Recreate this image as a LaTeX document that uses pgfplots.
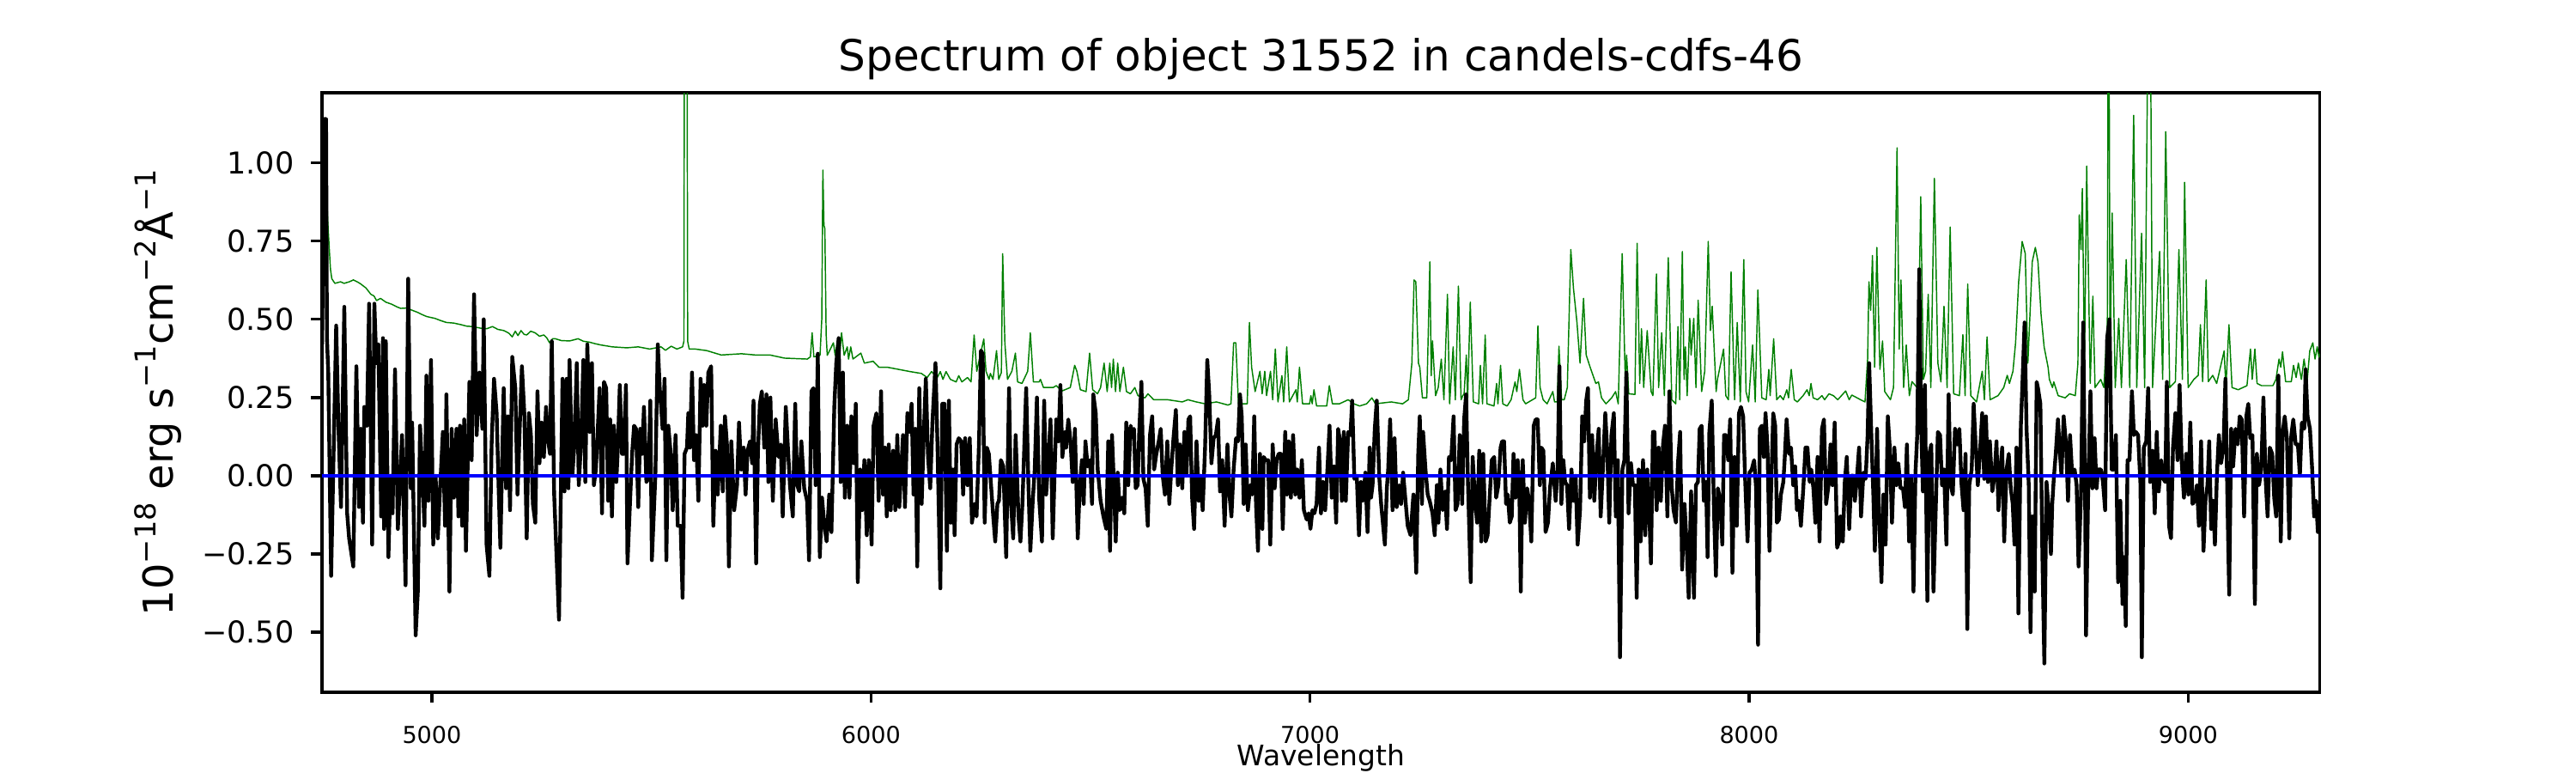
\documentclass[border=0pt]{standalone}
\usepackage{pgfplots}
\pgfplotsset{compat=1.18}
\usepackage{fontspec}
\setmainfont{DejaVu Sans}
\definecolor{mplgreen}{HTML}{008000}
\definecolor{mplblue}{HTML}{0000FF}
\newcommand\sps[1]{\raisebox{0.42em}{\fontsize{8.05}{9}\selectfont #1}}
\begin{document}
\begin{tikzpicture}
\useasboundingbox (-90pt,-22.56pt) rectangle (630pt,193.44pt);
\begin{axis}[
  scale only axis,
  width=558.4pt, height=167.5pt,
  xmin=4749.7, xmax=9300,
  ymin=-0.692, ymax=1.224,
  axis line style={line width=0.8pt},
  tick pos=left,
  tick align=outside,
  major tick length=3pt,
  every tick/.style={black, line width=0.8pt},
  xtick={5000,6000,7000,8000,9000},
  xticklabels={5000,6000,7000,8000,9000},
  ytick={-0.5,-0.25,0,0.25,0.5,0.75,1},
  yticklabels={−0.50,−0.25,0.00,0.25,0.50,0.75,1.00},
  xticklabel style={font=\fontsize{6.5}{7}\selectfont, anchor=base, inner sep=0pt, yshift=-11.3pt},
  yticklabel style={font=\fontsize{8.4}{9}\selectfont, anchor=east, inner sep=0pt, xshift=-4.6pt},
  every axis title/.style={at={(axis description cs:0.5,1.037)}, anchor=base, font=\fontsize{12.0}{14}\selectfont},
  every axis x label/.style={at={(axis description cs:0.5,-0.1232)}, anchor=base, font=\fontsize{7.9}{9}\selectfont},
  every axis y label/.style={at={(axis description cs:-0.0745,0.5)}, rotate=90, anchor=base, font=\fontsize{11.5}{13}\selectfont},
  title={Spectrum of object 31552 in candels-cdfs-46},
  xlabel={Wavelength},
  ylabel={10\sps{−18} erg s\sps{−1}cm\sps{−2}Å\sps{−1}},
  clip=true,
]
% sky spectrum (green)
\addplot[mplgreen, line width=0.35pt, line join=round] table {
4756 1.08
4759 0.95
4763 0.81
4766 0.733
4769 0.66
4772 0.63
4779 0.615
4792 0.62
4800 0.615
4812 0.62
4821 0.626
4830 0.62
4838 0.613
4850 0.60
4861 0.58
4868 0.575
4874 0.56
4883 0.567
4895 0.555
4909 0.548
4920 0.54
4929 0.535
4942 0.536
4955 0.529
4968 0.522
4978 0.515
4988 0.509
5007 0.503
5020 0.496
5033 0.49
5050 0.488
5066 0.483
5080 0.478
5092 0.477
5110 0.472
5125 0.47
5138 0.477
5150 0.468
5164 0.464
5175 0.456
5183 0.444
5190 0.462
5196 0.448
5203 0.464
5210 0.452
5216 0.45
5225 0.462
5235 0.457
5245 0.446
5255 0.45
5262 0.44
5268 0.425
5275 0.438
5281 0.438
5295 0.432
5314 0.431
5333 0.438
5345 0.43
5359 0.427
5372 0.422
5385 0.418
5411 0.412
5444 0.409
5470 0.412
5496 0.405
5522 0.412
5532 0.401
5545 0.414
5558 0.405
5571 0.412
5574 0.43
5575.5 2.0
5580.5 2.0
5582.5 0.43
5586 0.405
5600 0.405
5626 0.40
5659 0.386
5705 0.39
5737 0.386
5770 0.386
5803 0.376
5855 0.373
5862 0.38
5866 0.457
5870 0.38
5884 0.385
5888 0.50
5890.5 0.977
5893 0.80
5895 0.79
5898 0.45
5900.5 0.385
5914.5 0.425
5918.5 0.385
5925 0.44
5928 0.373
5933 0.457
5939 0.385
5946 0.412
5949 0.373
5954 0.412
5959 0.373
5977 0.392
5985 0.36
6005 0.366
6018 0.347
6037 0.347
6063 0.34
6089 0.333
6115 0.327
6128 0.314
6138 0.333
6151 0.314
6158 0.333
6164 0.308
6171 0.333
6181 0.308
6194 0.30
6200 0.32
6207 0.30
6220 0.314
6228 0.30
6235 0.45
6241 0.334
6257 0.437
6262 0.334
6269 0.308
6272 0.327
6278 0.308
6286 0.40
6291 0.308
6297 0.33
6300 0.71
6305 0.425
6311 0.308
6321 0.334
6329 0.392
6334 0.30
6344 0.295
6357 0.334
6363 0.457
6370 0.30
6383 0.30
6386 0.308
6393 0.282
6415 0.282
6422 0.288
6435 0.271
6454 0.282
6464 0.353
6469 0.334
6477 0.275
6490 0.269
6498 0.392
6505 0.275
6516 0.262
6523 0.282
6531 0.36
6538 0.269
6544 0.36
6548 0.282
6552 0.373
6557 0.269
6562 0.36
6567 0.269
6575 0.347
6582 0.269
6591 0.262
6601 0.282
6608 0.256
6624 0.249
6631 0.262
6644 0.243
6676 0.243
6709 0.236
6722 0.243
6741 0.236
6761 0.23
6787 0.236
6813 0.226
6820 0.23
6826 0.425
6831 0.425
6837 0.23
6857 0.23
6862 0.49
6867 0.347
6875 0.269
6886 0.334
6891 0.262
6897 0.334
6901 0.256
6910 0.334
6915 0.243
6921 0.405
6927 0.236
6936 0.32
6940 0.236
6947 0.412
6953 0.236
6968 0.275
6971 0.236
6976 0.347
6983 0.23
6999 0.23
7002 0.256
7005 0.23
7009 0.275
7015 0.223
7038 0.223
7044 0.288
7051 0.23
7067 0.23
7087 0.243
7100 0.23
7113 0.223
7129 0.23
7141 0.249
7149 0.23
7185 0.236
7211 0.23
7224 0.243
7232 0.36
7237 0.626
7241 0.62
7247 0.36
7250 0.347
7256 0.249
7266 0.249
7273 0.684
7276 0.32
7279 0.431
7286 0.256
7292 0.282
7299 0.373
7305 0.243
7313 0.58
7318 0.23
7326 0.412
7331 0.243
7338 0.606
7344 0.243
7348 0.256
7351 0.262
7356 0.386
7359 0.243
7365 0.555
7372 0.236
7384 0.23
7388 0.353
7393 0.23
7399 0.45
7403 0.23
7419 0.223
7425 0.295
7428 0.23
7434 0.353
7439 0.23
7449 0.223
7458 0.243
7467 0.30
7471 0.269
7477 0.34
7485 0.243
7491 0.23
7514 0.249
7519 0.479
7524 0.282
7531 0.243
7540 0.23
7553 0.269
7557 0.236
7563 0.236
7567 0.414
7573 0.243
7579 0.243
7586 0.282
7594 0.723
7600 0.60
7608 0.49
7615 0.36
7623 0.567
7629 0.386
7638 0.347
7651 0.295
7657 0.30
7664 0.249
7674 0.23
7687 0.249
7696 0.269
7702 0.23
7711 0.71
7718 0.308
7721 0.386
7726 0.262
7740 0.26
7745 0.743
7751 0.295
7755 0.47
7760 0.282
7768 0.464
7777 0.269
7781 0.256
7789 0.645
7794 0.282
7801 0.457
7807 0.256
7816 0.697
7824 0.243
7833 0.23
7838 0.477
7842 0.243
7848 0.717
7852 0.308
7855 0.412
7859 0.256
7865 0.503
7868 0.386
7874 0.503
7879 0.282
7884 0.561
7892 0.269
7899 0.334
7907 0.749
7912 0.464
7916 0.542
7925 0.269
7928 0.308
7942 0.405
7947 0.256
7953 0.243
7959 0.652
7967 0.243
7973 0.49
7980 0.236
7988 0.691
7993 0.269
7999 0.236
8008 0.418
8014 0.236
8020 0.594
8029 0.249
8039 0.243
8045 0.34
8048 0.256
8056 0.438
8063 0.243
8071 0.256
8078 0.243
8086 0.275
8090 0.249
8096 0.34
8103 0.243
8110 0.236
8123 0.256
8132 0.275
8137 0.256
8141 0.295
8146 0.249
8156 0.243
8166 0.256
8172 0.243
8182 0.262
8192 0.256
8202 0.243
8220 0.271
8228 0.243
8234 0.258
8254 0.243
8264 0.236
8270 0.373
8273 0.62
8277 0.529
8281 0.704
8286 0.347
8291 0.73
8298 0.34
8304 0.431
8309 0.269
8322 0.243
8329 0.282
8337 1.048
8342 0.405
8346 0.626
8352 0.282
8358 0.418
8365 0.256
8371 0.301
8384 0.28
8391 0.892
8397 0.308
8402 0.334
8408 0.58
8414 0.282
8422 0.951
8430 0.36
8437 0.30
8444 0.542
8451 0.282
8458 0.795
8466 0.262
8479 0.256
8487 0.451
8492 0.256
8498 0.613
8505 0.256
8518 0.236
8531 0.334
8536 0.243
8542 0.444
8549 0.243
8567 0.256
8580 0.282
8588 0.321
8593 0.295
8601 0.334
8607 0.425
8614 0.62
8622 0.749
8629 0.71
8635 0.36
8645 0.684
8652 0.73
8658 0.684
8665 0.516
8672 0.412
8681 0.347
8684 0.308
8691 0.282
8694 0.30
8704 0.256
8720 0.249
8730 0.262
8743 0.256
8749 0.36
8752 0.834
8756 0.723
8759 0.918
8764 0.36
8769 0.99
8777 0.295
8783 0.574
8788 0.282
8801 0.308
8808 0.282
8816 0.49
8819 2.0
8822 0.36
8827 0.84
8834 0.282
8842 0.503
8848 0.282
8859 0.691
8867 0.282
8876 1.152
8883 0.282
8894 0.775
8901 0.282
8912 2.0
8919 0.282
8935 0.717
8942 0.308
8949 1.10
8958 0.282
8971 0.301
8979 0.723
8987 0.308
8992 0.938
9000 0.282
9013 0.308
9023 0.321
9028 0.483
9033 0.301
9041 0.626
9046 0.301
9056 0.321
9065 0.295
9082 0.399
9086 0.282
9093 0.483
9100 0.282
9114 0.275
9134 0.288
9142 0.405
9146 0.308
9152 0.405
9157 0.295
9167 0.288
9193 0.288
9200 0.308
9207 0.373
9211 0.347
9215 0.396
9222 0.301
9235 0.301
9240 0.353
9246 0.314
9251 0.36
9258 0.308
9264 0.373
9271 0.301
9277 0.399
9284 0.425
9289 0.373
9294 0.412
9298 0.379
9301 0.39
};
% object spectrum (black)
\addplot[black, line width=1.05pt, line join=round] table {
4750 0.42
4755 1.14
4759 1.14
4761 0.44
4764 0.33
4770.5 -0.32
4782 0.48
4787.5 0.14
4793 -0.10
4800.5 0.54
4807 -0.12
4811.5 -0.20
4821 -0.29
4828 0.35
4834 -0.10
4838 0.15
4843 -0.15
4846 0.22
4852 0.16
4857 0.55
4864 -0.22
4869 0.55
4873.5 0.36
4878 0.42
4884.5 -0.13
4888.5 0.44
4891 -0.17
4895 0.43
4901 -0.26
4906 0.00
4910.5 -0.12
4916 0.34
4922.5 -0.17
4932 0.13
4940 -0.35
4946 0.63
4952 -0.04
4955 0.17
4963 -0.51
4968 -0.37
4973 0.16
4979 -0.02
4983 -0.16
4987.5 0.32
4992 -0.08
4998 0.37
5003 -0.22
5008.5 0.00
5013.5 -0.20
5019 -0.03
5025 0.14
5030 -0.16
5033 0.26
5040 -0.37
5045 0.15
5050 -0.07
5056 0.15
5060.5 -0.13
5064 0.16
5069 -0.16
5073.5 0.18
5077.5 -0.24
5085.5 0.30
5090.5 0.05
5096 0.58
5102 0.13
5108 0.33
5115 0.15
5118 0.50
5124.5 -0.22
5131 -0.32
5136 0.10
5141.5 0.31
5147.5 0.20
5152 -0.04
5156 -0.23
5163.5 0.28
5169 -0.04
5173.5 0.19
5178 -0.11
5183 0.38
5190 0.28
5195 -0.06
5199.5 0.13
5205 0.35
5210.5 0.20
5216 -0.20
5221 0.20
5225.5 0.13
5230 -0.09
5235.5 -0.15
5240.5 0.27
5245 0.04
5250 0.17
5255 0.06
5260 0.22
5265 0.11
5269 0.07
5273 0.43
5278.5 -0.06
5289.5 -0.46
5297.5 0.31
5302 -0.05
5307 0.31
5311 -0.04
5313.5 0.37
5320 0.00
5324.5 0.10
5330 0.36
5334.5 -0.03
5339.5 0.10
5345 0.37
5349.5 -0.02
5354 0.42
5359.5 0.14
5364.5 0.36
5369 -0.03
5373.5 0.02
5377.5 0.14
5382 0.28
5387.5 -0.12
5392 0.30
5397 0.28
5401.5 -0.08
5406 0.18
5410 -0.13
5414.5 0.16
5420 -0.02
5423 0.07
5428 0.29
5433 0.07
5437.5 0.07
5442 0.29
5445.5 -0.28
5450.5 -0.11
5456 0.07
5460.5 0.16
5465 0.15
5470 -0.10
5474.5 0.15
5479 0.07
5483 0.22
5488.5 -0.02
5493 -0.01
5497.5 0.24
5501 -0.27
5509 0.00
5514.5 0.42
5519 0.28
5525.5 0.15
5530 0.31
5534 -0.27
5538.5 0.16
5544 0.07
5548.5 -0.11
5555 0.13
5560 -0.16
5566.5 -0.16
5571 -0.39
5575.5 0.07
5581 0.09
5584 0.20
5587.5 0.09
5592.5 0.33
5597 0.05
5601.5 0.13
5607 -0.08
5612 0.31
5616.5 0.16
5620 0.29
5625 0.16
5629.5 0.33
5636 0.35
5641 -0.16
5646 0.08
5651 -0.06
5658 0.16
5662.5 -0.05
5667.5 0.19
5672 0.10
5676.5 -0.29
5682 0.11
5688.5 -0.11
5695 -0.03
5699.5 0.17
5704.5 0.02
5710 0.09
5714.5 -0.06
5719 0.08
5724.5 0.11
5729.5 0.04
5732.5 0.24
5738.5 -0.28
5742.5 0.07
5747 0.23
5751.5 0.27
5757 0.09
5762 0.26
5766.5 -0.02
5771 0.25
5776.5 -0.08
5783 0.18
5789.5 0.06
5794.5 0.10
5799 -0.13
5806 0.22
5810.5 0.10
5815.5 -0.03
5822 -0.13
5827.5 0.23
5832 -0.03
5836.5 -0.05
5841.5 0.11
5848 -0.04
5854.5 -0.08
5859 -0.27
5864.5 0.27
5869 0.28
5874 -0.03
5879 0.39
5883.5 -0.26
5888.5 -0.07
5894 -0.16
5899 -0.21
5905 -0.06
5910 -0.18
5916.5 0.22
5921 0.36
5926.5 0.44
5931 -0.02
5936 0.33
5940.5 -0.07
5946 0.16
5951 -0.07
5955.5 0.19
5961 0.04
5965.5 0.23
5970 -0.34
5975.5 0.02
5980 -0.11
5985 0.05
5990.5 -0.19
5995 0.05
6001.5 -0.22
6006 0.16
6012.5 0.20
6017.5 -0.08
6023 0.27
6027.5 -0.06
6032 0.09
6036 -0.13
6040.5 0.10
6045 -0.11
6050.5 0.08
6055.5 -0.11
6060 0.13
6064.5 -0.10
6070 0.05
6073 0.13
6077.5 -0.10
6083 0.20
6088 0.14
6092.5 0.23
6097 -0.06
6101 0.15
6105.5 -0.29
6110 0.28
6115.5 -0.09
6120.5 0.14
6125 0.31
6130 0.06
6135 -0.04
6140 0.17
6147 0.36
6151.5 0.10
6158 -0.36
6162.5 0.23
6167.5 0.23
6173 -0.24
6177.5 0.24
6182 -0.15
6187 0.02
6190.5 -0.19
6195 0.10
6200 0.12
6205.5 0.11
6210 -0.06
6214.5 0.12
6220 -0.03
6225 0.12
6230 -0.15
6236 -0.09
6240.5 -0.13
6246 0.10
6250.5 0.40
6254.5 0.39
6259 -0.15
6264 0.09
6268.5 0.07
6273 -0.02
6278.5 -0.13
6283 -0.21
6288 -0.09
6291.5 -0.08
6296 0.05
6301.5 0.03
6308 -0.26
6314.5 0.28
6319 -0.09
6324 -0.20
6329.5 0.13
6336 -0.13
6340.5 -0.21
6345 -0.09
6353.5 0.28
6358.5 -0.02
6363 -0.24
6368.5 -0.08
6373 0.02
6378 0.25
6383 -0.07
6389.5 -0.21
6394.5 0.24
6399 -0.06
6403.5 0.04
6409 0.18
6414 -0.20
6418.5 0.02
6422 0.18
6427 0.11
6431.5 0.29
6436 0.06
6441.5 0.14
6444.5 0.09
6449.5 0.18
6454.5 0.11
6459.5 -0.02
6464.5 0.15
6471 -0.20
6475.5 -0.04
6480.5 0.05
6484.5 -0.09
6488.5 0.11
6493.5 0.03
6499 0.05
6503.5 -0.09
6506.5 0.26
6512 0.20
6516.5 0.02
6523 -0.08
6529.5 -0.13
6536 -0.17
6540.5 0.11
6544.5 -0.24
6549 0.13
6553.5 -0.03
6557.5 -0.21
6562 0.01
6566.5 -0.11
6572 -0.07
6577 -0.12
6581.5 0.17
6586 -0.03
6591.5 0.16
6594.5 0.14
6599 0.15
6603 -0.04
6607.5 -0.03
6611 0.14
6616 0.30
6620.5 -0.01
6625.5 -0.04
6630.5 -0.16
6635.5 0.13
6640.5 0.19
6645 0.02
6650 0.07
6655.5 0.11
6660 0.15
6664.5 0.00
6669.5 -0.06
6675 0.11
6679.5 -0.09
6684 0.02
6689 0.12
6694.5 0.21
6699 -0.03
6703.5 0.10
6709 -0.04
6714 0.14
6718.5 0.00
6723 0.18
6727 0.19
6731.5 -0.07
6736 -0.17
6741.5 0.11
6746.5 -0.08
6751 0.00
6755.5 -0.11
6761 0.09
6766 0.37
6770.5 0.26
6775.5 0.04
6780.5 0.12
6785.5 0.13
6790.5 0.18
6795 -0.05
6800 0.05
6805.5 -0.16
6810 0.03
6812 0.10
6816.5 -0.06
6821 -0.13
6826 0.02
6831.5 0.12
6836 0.11
6840.5 0.26
6844.5 0.19
6849 -0.09
6853.5 0.10
6858.5 -0.11
6864 -0.03
6868.5 -0.06
6873 0.19
6877 -0.09
6881.5 -0.24
6886 0.07
6891.5 -0.17
6894.5 0.06
6899 0.05
6904.5 0.05
6909.5 -0.22
6915 0.10
6919.5 -0.04
6924 0.05
6928.5 0.07
6933.5 0.07
6938 -0.17
6943.5 0.14
6947.5 -0.06
6951.5 0.11
6956.5 -0.07
6961.5 0.13
6966.5 -0.06
6971 0.02
6976 -0.07
6981.5 0.05
6986 -0.11
6992.5 -0.14
6997 -0.12
7001 -0.17
7005.5 -0.11
7010 -0.12
7015 -0.09
7020.5 0.09
7025 -0.12
7029.5 -0.02
7034.5 -0.11
7040 0.03
7044.5 0.16
7049.5 -0.07
7054.5 0.03
7059.5 -0.15
7064 0.15
7068.5 0.11
7072.5 -0.08
7077 0.14
7081.5 -0.08
7087 0.14
7092 0.13
7096 0.24
7101 -0.01
7106.5 0.00
7111.5 -0.19
7116 -0.02
7121 -0.08
7126 0.01
7131 -0.18
7136 0.09
7139 -0.07
7142.5 -0.03
7147.5 0.15
7152 0.24
7157.5 0.00
7162 -0.09
7170.5 -0.22
7175 -0.04
7178 0.02
7182.5 0.18
7188 -0.11
7192.5 0.12
7197.5 -0.10
7203 -0.03
7207.5 -0.09
7212 0.01
7217.5 -0.08
7222.5 -0.16
7229 -0.19
7235.5 -0.06
7242 -0.31
7246.5 0.07
7250 0.19
7255 -0.09
7257.5 0.14
7263 0.02
7268 -0.06
7272.5 -0.08
7279 -0.12
7284 -0.19
7289 -0.03
7292.5 -0.15
7297 0.02
7302 -0.11
7307.5 -0.05
7312 -0.17
7316.5 0.06
7321.5 0.05
7327 0.19
7331.5 -0.11
7336 -0.09
7341 0.13
7346.5 -0.09
7351 0.18
7355.5 0.26
7359.5 -0.01
7366 -0.34
7370.5 0.06
7375.5 -0.07
7380.5 -0.15
7385.5 0.08
7390 -0.21
7394.5 0.07
7400 -0.21
7404.5 -0.19
7409.5 -0.06
7414 0.05
7419.5 0.06
7424 -0.07
7429 -0.03
7434 0.09
7437.5 0.11
7442 0.11
7446.5 -0.09
7450.5 -0.06
7455 -0.15
7459.5 -0.13
7463.5 0.07
7468 -0.07
7473 0.05
7476.5 -0.02
7480 -0.37
7484.5 0.05
7489.5 -0.15
7494.5 -0.04
7499 -0.08
7504 -0.21
7509.5 0.16
7514 0.18
7518.5 0.18
7523.5 -0.03
7527 0.09
7531.5 0.08
7536.5 -0.18
7542 -0.15
7546.5 -0.04
7553 0.04
7559.5 -0.08
7564 0.02
7568 0.35
7572.5 -0.09
7577 0.05
7581 -0.02
7585.5 -0.03
7590 -0.17
7595.5 0.02
7600.5 -0.08
7605 0.00
7609.5 -0.22
7615 -0.11
7620 0.19
7624.5 0.11
7629 0.24
7633 0.28
7637.5 -0.07
7642.5 0.13
7647.5 -0.08
7652.5 0.06
7657.5 0.15
7662 -0.13
7667 0.02
7672.5 0.20
7677 0.08
7681.5 -0.15
7686.5 0.13
7692 0.20
7696.5 -0.13
7701 0.05
7706 -0.58
7711.5 0.02
7716 0.05
7720.5 0.33
7725.5 -0.12
7731 0.04
7735.5 -0.03
7740 -0.03
7744 -0.39
7748.5 0.02
7753 -0.21
7758.5 0.05
7763.5 -0.19
7768 0.02
7772.5 -0.11
7776.5 -0.28
7781 0.14
7784.5 0.14
7789.5 -0.11
7794 0.09
7799 -0.08
7804 0.10
7808.5 0.16
7814 -0.13
7818.5 0.27
7823.5 -0.03
7828 -0.11
7833.5 -0.15
7838 0.04
7843 0.14
7847.5 -0.30
7853 -0.09
7857.5 -0.21
7862.5 -0.39
7868 -0.05
7874.5 -0.39
7879 -0.03
7883.5 -0.02
7887.5 0.15
7892 0.16
7897 -0.08
7902 -0.02
7905.5 -0.26
7909.5 0.14
7915 0.24
7920 -0.11
7924.5 -0.32
7929 -0.04
7934.5 -0.08
7939 -0.22
7943 0.13
7947.5 0.13
7952.5 0.05
7957 0.18
7962 -0.31
7967 0.06
7972 -0.16
7977 0.20
7981.5 0.22
7986.5 0.19
7991 -0.01
7996.5 -0.21
8001 0.01
8006 0.02
8011.5 0.05
8016 -0.04
8020.5 -0.54
8024.5 0.15
8029 0.16
8033.5 0.06
8037.5 0.20
8042 0.09
8046.5 -0.24
8050.5 -0.03
8055 0.20
8059.5 0.16
8063.5 -0.15
8068 -0.14
8072.5 -0.06
8078 -0.02
8081 0.05
8085.5 0.18
8091 0.07
8095.5 0.09
8100.5 -0.03
8105 0.03
8109 -0.11
8113.5 -0.08
8118 -0.16
8123.5 -0.04
8128.5 0.09
8133 0.09
8138 -0.02
8141.5 0.02
8146.5 -0.04
8151 -0.15
8156 0.06
8160.5 -0.21
8166 0.15
8170.5 0.18
8175.5 -0.09
8181 -0.03
8185.5 0.10
8190 -0.03
8195 0.17
8200.5 -0.23
8205 -0.21
8208 -0.13
8213.5 -0.21
8218 -0.02
8222.5 0.06
8228 -0.17
8233 0.00
8237.5 0.00
8241 -0.08
8246 0.00
8250.5 0.09
8255 -0.13
8260.5 0.01
8265.5 -0.01
8270 0.13
8273.5 0.36
8278.5 0.13
8283 -0.06
8286.5 -0.24
8291.5 0.15
8296 -0.13
8301.5 -0.34
8306 -0.06
8311 -0.22
8316 0.19
8320.5 0.09
8325.5 -0.15
8331 0.09
8335.5 -0.03
8340 0.04
8345 -0.04
8350.5 -0.04
8355 -0.10
8359.5 0.10
8364.5 -0.21
8369 0.00
8374.5 -0.37
8379 0.01
8383 0.13
8387.5 0.66
8392 0.16
8396 -0.05
8400.5 0.29
8406 -0.40
8410.5 0.07
8415 0.10
8420 -0.37
8425.5 -0.09
8430 0.14
8435 0.13
8439.5 -0.03
8444 0.02
8449.5 -0.22
8454.5 0.26
8459 -0.03
8464 -0.06
8469 0.15
8474 0.10
8479 0.15
8483.5 -0.02
8488.5 -0.11
8493 0.07
8497 -0.49
8501.5 -0.03
8507 0.02
8511.5 0.23
8516 0.10
8521 -0.03
8526.5 0.09
8531 0.20
8535.5 -0.01
8539.5 0.19
8544 -0.02
8548.5 0.11
8554 -0.05
8559 0.00
8563.5 0.11
8568 -0.11
8573.5 0.04
8576.5 0.09
8581 -0.21
8586.5 0.02
8591.5 0.07
8596 -0.04
8600.5 -0.09
8604.5 -0.22
8609 0.09
8613.5 -0.44
8619 0.16
8623 0.31
8627.5 0.49
8632 0.15
8637 -0.03
8641 -0.50
8645 -0.13
8650.5 -0.37
8655 0.30
8658 0.28
8663.5 0.23
8668 -0.25
8672.5 -0.60
8677.5 -0.02
8683 -0.12
8687.5 -0.25
8690.5 -0.09
8694 -0.01
8698.5 0.07
8703.5 0.18
8708 0.07
8711.5 0.00
8716.5 0.19
8722 0.10
8726.5 -0.08
8731 0.13
8736 0.00
8741.5 0.02
8746 -0.03
8750.5 -0.29
8756 -0.06
8761 0.49
8765.5 -0.09
8767.5 -0.51
8772 -0.08
8777.5 0.27
8782 -0.04
8787 0.12
8791.5 -0.04
8795 0.02
8801.5 0.02
8806 -0.02
8811 -0.11
8815.5 0.44
8821 0.50
8826 0.02
8830.5 0.02
8835.5 0.13
8840.5 -0.34
8845.5 -0.08
8850.5 -0.41
8853.5 -0.26
8858 -0.48
8862 0.05
8866.5 0.05
8872 0.27
8876.5 0.13
8881 0.14
8886 0.13
8891.5 -0.03
8894.5 -0.58
8899 0.09
8904.5 0.11
8909 0.28
8913.5 -0.02
8919 0.08
8924 -0.12
8928.5 0.14
8933 -0.05
8938.5 0.05
8943.5 -0.01
8948 -0.02
8951.5 0.30
8956.5 -0.16
8961 -0.20
8965.5 0.09
8971 0.20
8976 0.05
8980.5 0.29
8985.5 0.04
8990.5 -0.07
8995.5 0.07
9000.5 -0.06
9005 0.17
9010 -0.09
9015.5 -0.08
9020 -0.03
9024.5 -0.16
9029.5 0.11
9035 -0.24
9039.5 -0.08
9044 -0.03
9048 0.11
9052.5 -0.17
9057 -0.08
9061 -0.22
9065.5 0.00
9070 0.13
9075 0.04
9080.5 0.09
9085 0.31
9089.5 -0.08
9093.5 -0.38
9098 0.15
9102.5 0.03
9108 0.15
9113 0.10
9117.5 0.19
9122 0.18
9127.5 -0.13
9132.5 0.19
9137 0.23
9141.5 0.12
9146.5 0.13
9152 -0.41
9156.5 0.07
9161.5 -0.03
9166.5 0.02
9171.5 0.25
9176.5 -0.01
9181 -0.13
9186 0.09
9191.5 0.07
9196 -0.07
9200.5 -0.13
9205.5 0.32
9211 -0.21
9215.5 0.14
9220 0.19
9225 0.12
9230.5 -0.20
9235 0.13
9239.5 0.18
9245 0.10
9250 0.10
9254.5 0.00
9259 0.17
9264.5 0.15
9267.5 0.34
9272 0.19
9277.5 0.15
9282.5 0.02
9287 -0.13
9291.5 -0.08
9295.5 -0.18
9300 -0.11
};
% zero line (blue)
\addplot[mplblue, line width=1.15pt] coordinates {(4749.7,0) (9300,0)};
\end{axis}
\end{tikzpicture}
\end{document}
